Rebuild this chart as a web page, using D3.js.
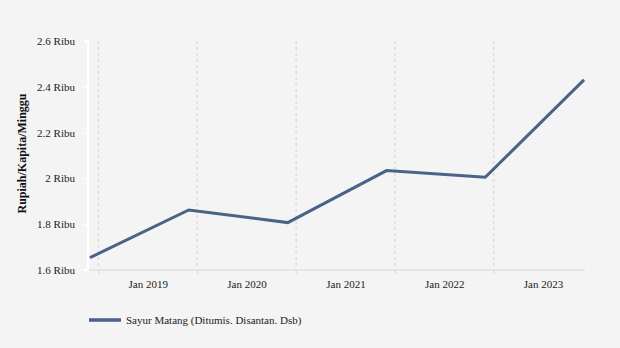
<!DOCTYPE html>
<html>
<head>
<meta charset="utf-8">
<script src="https://cdn.jsdelivr.net/npm/d3@7"></script>
<style>
  html, body { margin: 0; padding: 0; background: #f4f4f4; }
  svg { display: block; font-family: "Liberation Serif", "Times New Roman", serif; }
</style>
</head>
<body>
<svg id="chart" width="620" height="348"></svg>
<script>
// Observation dates (one per year) and weekly expenditure, thousand rupiah
const dates = ["2018-12-01", "2019-12-01", "2020-12-01", "2021-12-01", "2022-12-01", "2023-12-01"];
const values = [1.654, 1.862, 1.807, 2.034, 2.005, 2.430];
const yTicks = [1.6, 1.8, 2.0, 2.2, 2.4, 2.6];
const xTickYears = [2019, 2020, 2021, 2022, 2023];
const seriesName = "Sayur Matang (Ditumis. Disantan. Dsb)";
const yTitle = "Rupiah/Kapita/Minggu";

const serif = '"Liberation Serif", "Times New Roman", serif';
const parse = d3.timeParse("%Y-%m-%d");
const data = dates.map((d, i) => ({ date: parse(d), value: values[i] }));

const svg = d3.select("#chart");
const plotLeft = 88, plotRight = 585, plotTop = 41, plotBottom = 270;

const x = d3.scaleTime()
  .domain(d3.extent(data, d => d.date))
  .range([90, 584]);
const y = d3.scaleLinear().domain([1.6, 2.6]).range([plotBottom, plotTop]);

const tickDates = xTickYears.map(yr => new Date(yr, 0, 1));

// vertical dashed grid at each January
svg.append("g").selectAll("line").data(tickDates).join("line")
  .attr("x1", d => x(d)).attr("x2", d => x(d))
  .attr("y1", plotTop).attr("y2", plotBottom)
  .attr("stroke", "#dcdcdc").attr("stroke-width", 1.5)
  .attr("stroke-dasharray", "3,3");

// x axis
const yearWidth = x(new Date(2020, 0, 1)) - x(new Date(2019, 0, 1));
const xAxis = svg.append("g")
  .attr("transform", `translate(0,${plotBottom})`)
  .call(d3.axisBottom(x).tickValues(tickDates)
    .tickFormat(d3.timeFormat("Jan %Y")).tickSize(4).tickPadding(6))
  .attr("font-family", serif).attr("font-size", 11);
xAxis.select(".domain").remove();
xAxis.insert("line", ":first-child")
  .attr("x1", plotLeft).attr("x2", plotRight).attr("y1", 0).attr("y2", 0)
  .attr("stroke", "#e2e2e2").attr("stroke-width", 1.5);
xAxis.selectAll(".tick line").attr("stroke", "#e2e2e2").attr("stroke-width", 1.5);
xAxis.selectAll(".tick text")
  .attr("x", yearWidth / 2)
  .attr("fill", "#222");

// y axis
const yAxis = svg.append("g")
  .attr("transform", `translate(${plotLeft},0)`)
  .call(d3.axisLeft(y).tickValues(yTicks)
    .tickFormat(d => d3.format("~g")(d) + " Ribu").tickSize(4).tickPadding(9))
  .attr("font-family", serif).attr("font-size", 11);
yAxis.select(".domain").attr("stroke", "#ffffff").attr("stroke-width", 2)
  .attr("d", `M-4,${plotTop}H0V${plotBottom}H-4`);
yAxis.selectAll(".tick line").attr("stroke", "#ffffff").attr("stroke-width", 1.5);
yAxis.selectAll(".tick text").attr("fill", "#222");

// y title
svg.append("text")
  .attr("transform", `translate(26,${(plotTop + plotBottom) / 2 - 2}) rotate(-90)`)
  .attr("text-anchor", "middle")
  .style("font-size", "12px").style("font-weight", "bold").attr("fill", "#111")
  .text(yTitle);

// line
const line = d3.line().x(d => x(d.date)).y(d => y(d.value));
svg.append("path").datum(data)
  .attr("d", line)
  .attr("fill", "none")
  .attr("stroke", "#4a6288")
  .attr("stroke-width", 3)
  .attr("stroke-linejoin", "miter");

// legend
const lg = svg.append("g").attr("transform", "translate(89,320)");
lg.append("line").attr("x1", 0).attr("x2", 32).attr("y1", 0).attr("y2", 0)
  .attr("stroke", "#4a6288").attr("stroke-width", 3.5);
lg.append("text").attr("x", 37).attr("y", 4)
  .style("font-size", "11px").attr("fill", "#222").text(seriesName);
</script>
</body>
</html>
